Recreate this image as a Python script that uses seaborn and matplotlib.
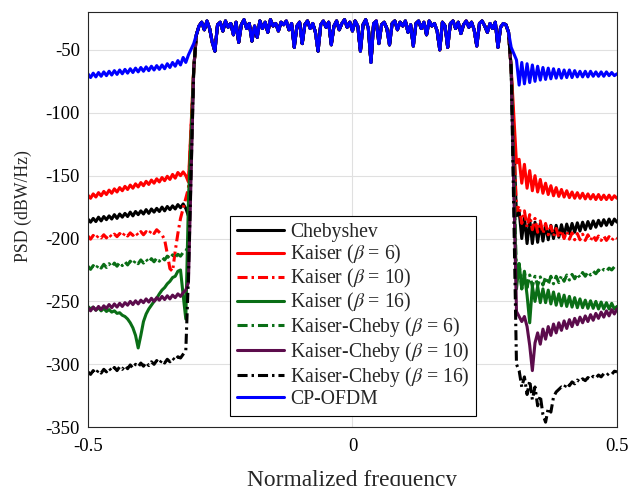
import matplotlib
matplotlib.use('Agg')
import matplotlib.pyplot as plt
import numpy as np
import seaborn as sns

# frequency grids: left stop band, pass band, right stop band
freq_left = np.round(np.linspace(-0.5, -0.31, 39), 3)
freq_pass = np.round(np.linspace(-0.295, 0.295, 119), 3)
freq_right = np.round(np.linspace(0.31, 0.5, 39), 3)

# pass band is shared by every waveform
passband = [-38, -31, -28, -34, -27, -33, -44, -51, -30, -28,
            -35, -27, -32, -29, -38, -28, -44, -30, -26, -33,
            -29, -43, -31, -40, -27, -33, -28, -36, -26, -31,
            -29, -35, -28, -30, -27, -34, -29, -48, -31, -28,
            -45, -30, -27, -33, -29, -36, -51, -30, -27, -32,
            -28, -46, -31, -27, -34, -29, -26, -32, -28, -35,
            -27, -31, -51, -30, -26, -33, -60, -29, -27, -45,
            -30, -28, -33, -46, -29, -27, -34, -28, -31, -27,
            -36, -30, -47, -29, -27, -33, -28, -38, -27, -31,
            -29, -35, -50, -28, -31, -48, -29, -27, -33, -28,
            -37, -30, -27, -32, -28, -34, -47, -29, -27, -31,
            -36, -29, -33, -28, -48, -32, -29, -30, -36]

filt_edge = -65
ofdm_edge_left = -45
ofdm_edge_right = -48

cheby_left = [-184.5, -187, -184, -186.5, -183, -186, -182.5, -185, -182, -184.5,
              -181, -184, -180.5, -183, -180, -182.5, -179, -182, -178.5, -181,
              -178, -180.5, -177, -180, -176.5, -179, -176, -178.5, -175, -178,
              -174.5, -177, -174, -176.5, -173, -175.5, -172.5, -176, -182]
cheby_right = [-182, -178, -200, -183, -204, -185, -204, -187, -203, -188,
               -202, -189, -201, -189.5, -200, -189.5, -199, -189, -197.5, -188.5,
               -196, -188, -195, -187.5, -194, -187, -193, -186.5, -192, -186,
               -191, -185.5, -190, -185, -189.5, -184.5, -189, -184.5, -187]

k6_left = [-165.5, -168, -164.5, -167, -163.5, -166, -162.5, -165, -161.5, -164,
           -160.5, -163, -159.5, -162, -158.5, -161, -157.5, -160, -156.5, -159,
           -155.5, -158, -154.5, -157, -153.5, -156, -152.5, -155, -151.5, -154,
           -150.5, -153, -149, -152, -147.5, -150, -147, -150, -155]
k6_right = [-140, -137, -156, -141, -160, -146, -162, -150, -163, -153,
            -164, -156, -165, -158, -166, -159.5, -166.5, -161, -167, -162,
            -167.5, -163, -168, -163.5, -168, -164, -168.5, -164.5, -168.5, -165,
            -169, -165, -169, -165.5, -169, -165.5, -169, -166, -168]

k10_left = [-198, -200.5, -197.5, -200, -197.5, -199.5, -197, -199.5, -196.5, -199,
            -196.5, -198.5, -196, -198.5, -195.5, -198, -195.5, -197.5, -195, -197.5,
            -194.5, -197, -194.5, -196.5, -193.5, -196, -193, -195, -197, -201,
            -212, -224, -226, -210, -196, -184, -176, -168, -160]
k10_right = [-178, -174, -188, -178, -191, -181, -193, -184, -195, -186,
             -196, -188, -197, -190, -198, -192, -199, -193.5, -200, -194.5,
             -200.5, -195.5, -201, -196, -201, -196.5, -201.5, -197, -201.5, -197.5,
             -201.5, -198, -201.5, -198, -201.5, -198.5, -201.5, -198.5, -200]

k16_left = [-254, -256, -254.5, -257, -255, -257.5, -255.5, -258, -256.5, -258.5,
            -257.5, -259.5, -259, -261, -262, -264, -267, -271, -277, -287,
            -277, -266, -260, -256, -253, -250, -247.5, -244, -241, -239,
            -236, -234, -231, -230, -226, -225, -245, -264, -170]
k16_right = [-240, -220, -240, -228, -245, -267, -238, -250, -238, -251,
             -240, -251, -241, -252, -242.5, -253, -244, -253.5, -245, -254,
             -246, -254.5, -247, -255, -248, -255, -249, -255.5, -249.5, -255.5,
             -250, -256, -250.5, -256, -251, -256, -251.5, -256, -254]

kc6_left = [-222, -224.5, -221.5, -224, -221, -223.5, -220.5, -223, -220, -222.5,
            -219.5, -222, -219, -221.5, -218.5, -221, -218, -220.5, -217.5, -220,
            -217, -219.5, -216.5, -219, -216, -218.5, -215.5, -218, -215, -217,
            -214, -216, -213, -215, -212.5, -214, -211, -210, -206]
kc6_right = [-230, -220, -240, -226, -239, -229, -238, -230, -237.5, -230.5,
             -237, -230.5, -236.5, -230, -236, -230, -235, -229.5, -234, -229,
             -233, -228.5, -232, -228, -231, -227, -230, -226.5, -229, -226,
             -228, -225, -227, -224.5, -226, -223.5, -225, -222.5, -222]

kc10_left = [-255, -257.5, -254.5, -257, -254, -256.5, -253.5, -255.5, -252.5, -255,
             -252, -254.5, -251.5, -254, -251, -253, -250, -252.5, -249.5, -252,
             -249, -251, -248, -250.5, -247.5, -250, -247, -249, -246, -248.5,
             -245.5, -248, -245, -247, -244, -246, -243, -241, -235]
kc10_right = [-258, -262, -266, -262, -270, -285, -305, -283, -275, -284,
              -272, -280, -270, -277, -268, -275, -267, -273, -265.5, -271.5,
              -264.5, -270, -263.5, -268.5, -262.5, -267, -261.5, -266, -260.5, -265,
              -259.5, -263.5, -258.5, -262.5, -257.5, -261.5, -256.5, -260, -256]

kc16_left = [-306, -308, -305, -307.5, -304.5, -307, -304, -306, -303, -305.5,
             -302.5, -305, -302, -304, -301, -303.5, -300.5, -303, -300, -302,
             -299, -301.5, -298.5, -301, -298, -300, -297, -299.5, -296.5, -299,
             -296, -298, -295, -297, -294, -295, -292, -289, -230]
kc16_right = [-300, -305, -318, -310, -324, -313, -328, -318, -333, -325,
              -340, -346, -335, -338, -326, -322, -320, -318, -319, -315,
              -317, -314, -315.5, -312.5, -314, -311.5, -313, -310.5, -312, -309.5,
              -311, -308.5, -310, -307.5, -309, -307, -308, -305.5, -306]

ofdm_left = [-69, -72, -68.5, -71.5, -68, -71, -67.5, -70.5, -67, -70,
             -66.5, -69.5, -66, -69, -65.5, -68.5, -65, -68, -64.5, -67.5,
             -64, -67, -63.5, -66.5, -63, -66, -62.5, -65.5, -62, -65,
             -61, -64, -60, -63, -58.5, -62, -56, -60, -54]
ofdm_right = [-58, -78, -60, -77, -61, -76, -62, -75, -63, -74,
              -64, -73.5, -64.5, -73, -65, -72.5, -65.5, -72.5, -66, -72,
              -66, -72, -66.5, -71.5, -67, -71.5, -67, -71.5, -67, -71,
              -67.5, -71, -67.5, -71, -67.5, -70.5, -68, -70.5, -69]

labels = ['Chebyshev', r'Kaiser ($\beta$ = 6)', r'Kaiser ($\beta$ = 10)',
          r'Kaiser ($\beta$ = 16)', r'Kaiser-Cheby ($\beta$ = 6)',
          r'Kaiser-Cheby ($\beta$ = 10)', r'Kaiser-Cheby ($\beta$ = 16)', 'CP-OFDM']

sns.set_style('white')
plt.rcParams['font.family'] = ['Liberation Serif', 'DejaVu Serif']
plt.rcParams['mathtext.fontset'] = 'stix'
plt.rcParams['axes.unicode_minus'] = False


def build_curve(left, right, edge_l, edge_r):
    x = np.concatenate([freq_left, [-0.3], freq_pass, [0.3], freq_right])
    y = np.concatenate([left, [edge_l], passband, [edge_r], right])
    return x, y


solid = '-'
dashdot = (0, (3.3, 1.3, 0.8, 1.3))
series = [
    (cheby_left, cheby_right, filt_edge, filt_edge, 'black', solid),
    (k6_left, k6_right, filt_edge, filt_edge, '#ff0000', solid),
    (k10_left, k10_right, filt_edge, filt_edge, '#ff0000', dashdot),
    (k16_left, k16_right, filt_edge, filt_edge, '#0a6e16', solid),
    (kc6_left, kc6_right, filt_edge, filt_edge, '#0a6e16', dashdot),
    (kc10_left, kc10_right, filt_edge, filt_edge, '#5c0c4c', solid),
    (kc16_left, kc16_right, filt_edge, filt_edge, 'black', dashdot),
    (ofdm_left, ofdm_right, ofdm_edge_left, ofdm_edge_right, '#0000ff', solid),
]

fig = plt.figure(figsize=(6.28, 4.86), dpi=100)
ax = fig.add_axes([0.140, 0.121, 0.8425, 0.854])

for label, (left, right, el, er, color, ls) in zip(labels, series):
    x, y = build_curve(left, right, el, er)
    sns.lineplot(x=x, y=y, ax=ax, color=color, linestyle=ls, linewidth=2.2,
                 estimator=None, sort=False, label=label)

ax.set_xlim(-0.5, 0.5)
ax.set_ylim(-350, -20)
ax.set_xticks([-0.5, 0, 0.5])
ax.set_xticklabels(['-0.5', '0', '0.5'])
ax.set_yticks([-350, -300, -250, -200, -150, -100, -50])
ax.grid(True, color='#e0e0e0', linewidth=0.8)
ax.set_axisbelow(True)
ax.tick_params(direction='in', length=4, labelsize=13.5, colors='black', width=0.8)
ax.tick_params(axis='x', pad=7.5)
ax.tick_params(axis='y', pad=5.8)
for sp in ax.spines.values():
    sp.set_color('#262626')
    sp.set_linewidth(0.8)

ax.set_xlabel('Normalized frequency', fontsize=16.8, labelpad=11)
ax.set_ylabel('PSD (dBW/Hz)', fontsize=12.8)
ax.yaxis.set_label_coords(-0.106, 0.533)

leg = ax.legend(loc='lower center', bbox_to_anchor=(0.501, 0.027), borderaxespad=0,
                frameon=True, fancybox=False, edgecolor='black', framealpha=1,
                fontsize=14.2, handlelength=2.4, handletextpad=0.3,
                labelspacing=0.05, borderpad=0.35)
leg.get_frame().set_linewidth(0.8)

fig.savefig('out.png', dpi=100)
